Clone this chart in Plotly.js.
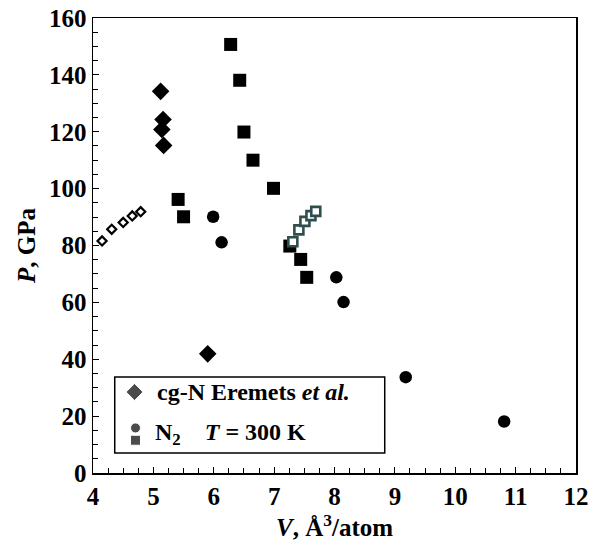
<!DOCTYPE html>
<html>
<head>
<meta charset="utf-8">
<script src="https://cdn.plot.ly/plotly-3.0.1.min.js"></script>
<style>html,body{margin:0;padding:0;background:#fff;}#chart{width:603px;height:541px;}</style>
</head>
<body>
<div id="chart"></div>
<script>
// cg-N (Eremets et al.) — filled diamonds
const cgN_V = [5.12, 5.16, 5.14, 5.17, 5.90];
const cgN_P = [134.2, 124.3, 120.8, 115.2, 41.9];
// N2 at 300 K — circles
const n2c_V = [5.99, 6.13, 8.03, 8.15, 9.18, 10.81];
const n2c_P = [90.1, 81.1, 68.8, 60.1, 33.7, 18.1];
// N2 at 300 K — filled squares
const n2s_V = [6.28, 6.43, 6.50, 6.65, 6.99, 5.41, 5.50, 7.26, 7.44, 7.54];
const n2s_P = [150.7, 138.1, 119.9, 110.0, 100.1, 96.2, 90.1, 79.8, 75.1, 68.8];
// open diamonds
const openD_V = [4.15, 4.31, 4.50, 4.65, 4.79];
const openD_P = [81.6, 85.7, 88.1, 90.4, 91.9];
// open squares
const openS_V = [7.31, 7.41, 7.51, 7.61, 7.69];
const openS_P = [81.3, 85.5, 88.5, 90.5, 92.0];
// tick values
const xTicks = [4, 5, 6, 7, 8, 9, 10, 11, 12];
const yTicks = [0, 20, 40, 60, 80, 100, 120, 140, 160];
// legend entries (key positions in paper units of the legend overlay)
const legendLabels = ["<b>cg-N Eremets <i>et al.</i></b>", "<b>N<sub>2</sub>    <i>T</i> = 300 K</b>"];
const legendKeySymbols = ["diamond", "circle", "square"];
const legendKeyX = [0.086, 0.088, 0.088];
const legendKeyY = [0.178, 0.099, 0.072];

const FONT = "Liberation Serif, serif";

const traces = [
  {x: n2s_V, y: n2s_P, type: 'scatter', mode: 'markers',
   marker: {symbol: 'square', size: 13, color: '#000'}, showlegend: false},
  {x: n2c_V, y: n2c_P, type: 'scatter', mode: 'markers',
   marker: {symbol: 'circle', size: 12.5, color: '#000'}, showlegend: false},
  {x: cgN_V, y: cgN_P, type: 'scatter', mode: 'markers',
   marker: {symbol: 'diamond', size: 13.5, color: '#000'}, showlegend: false},
  {x: openD_V, y: openD_P, type: 'scatter', mode: 'markers',
   marker: {symbol: 'diamond', size: 7, color: '#fff', line: {color: '#000', width: 2.2}}, showlegend: false},
  {x: openS_V, y: openS_P, type: 'scatter', mode: 'markers',
   marker: {symbol: 'square', size: 9, color: '#fff', line: {color: '#2f4f4f', width: 2.6}}, showlegend: false},
  {x: legendKeyX, y: legendKeyY, xaxis: 'x2', yaxis: 'y2', type: 'scatter', mode: 'markers',
   marker: {symbol: legendKeySymbols, size: [13, 10, 10], color: '#000'}, showlegend: false, hoverinfo: 'skip'}
];

const axisCommon = {
  showgrid: false, zeroline: false, showline: true, mirror: true,
  linecolor: '#000', linewidth: 1.5,
  ticks: 'inside', ticklen: 6, tickwidth: 1, tickcolor: '#000',
  tickfont: {family: FONT, size: 25, color: '#000'}
};

const layout = {
  width: 603, height: 541,
  margin: {l: 93, r: 27, t: 18, b: 68},
  paper_bgcolor: '#fff', plot_bgcolor: '#fff',
  font: {family: FONT, color: '#000'},
  xaxis: Object.assign({}, axisCommon, {
    range: [4, 12], tickvals: xTicks, ticktext: xTicks.map(v => '<b>' + v + '</b>'),
    minor: {dtick: 0.25, ticks: 'inside', ticklen: 5, tickcolor: '#000', showgrid: false},
    title: {text: '<b><i>V</i>, Å<sup>3</sup>/atom</b>', font: {family: FONT, size: 25, color: '#000'}, standoff: 8}
  }),
  yaxis: Object.assign({}, axisCommon, {
    range: [0, 160], tickvals: yTicks, ticktext: yTicks.map(v => '<b>' + v + '</b>'),
    minor: {dtick: 5, ticks: 'inside', ticklen: 5, tickcolor: '#000', showgrid: false},
    title: {text: '<b><i>P</i>, GPa</b>', font: {family: FONT, size: 25, color: '#000'}, standoff: 6}
  }),
  xaxis2: {overlaying: 'x', range: [0, 1], visible: false, fixedrange: true},
  yaxis2: {overlaying: 'y', range: [0, 1], visible: false, fixedrange: true},
  shapes: [
    {type: 'rect', xref: 'paper', yref: 'paper', x0: 0.045, x1: 0.604, y0: 0.044, y1: 0.211,
     line: {color: '#000', width: 1.5}, fillcolor: 'rgba(255,255,255,0)'}
  ],
  annotations: [
    {xref: 'paper', yref: 'paper', x: 0.128, y: 0.178, xanchor: 'left', yanchor: 'middle',
     text: legendLabels[0], showarrow: false, font: {family: FONT, size: 24, color: '#000'}},
    {xref: 'paper', yref: 'paper', x: 0.124, y: 0.086, xanchor: 'left', yanchor: 'middle',
     text: legendLabels[1], showarrow: false, font: {family: FONT, size: 24, color: '#000'}}
  ]
};

Plotly.newPlot('chart', traces, layout, {displayModeBar: false, staticPlot: true});
</script>
</body>
</html>
